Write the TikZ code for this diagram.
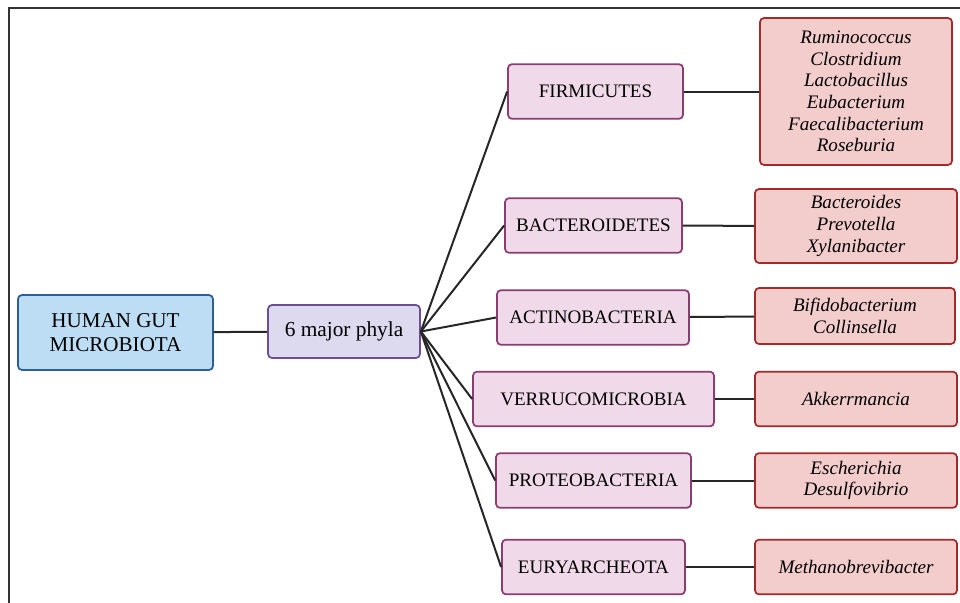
\documentclass[tikz,border=0pt]{standalone}
\usepackage{fontspec}
\setmainfont{Liberation Serif}
\definecolor{gutfill}{HTML}{BCDDF3}
\definecolor{gutdraw}{HTML}{2C5F96}
\definecolor{phylafill}{HTML}{DDD9EE}
\definecolor{phyladraw}{HTML}{6B4E94}
\definecolor{phylumfill}{HTML}{F0DAE9}
\definecolor{phylumdraw}{HTML}{8B3C73}
\definecolor{genusfill}{HTML}{F3CCCC}
\definecolor{genusdraw}{HTML}{A32A2A}
\begin{document}
\begin{tikzpicture}[x=0.75pt,y=-0.75pt,
    box/.style={rectangle,rounded corners=3pt,line width=1.3pt,align=center,
      inner sep=0pt,font=\fontsize{14.3}{16.2}\selectfont},
    gut/.style={box,fill=gutfill,draw=gutdraw,minimum width=146.25pt,minimum height=56.25pt,
      font=\fontsize{15.8}{18}\selectfont},
    phyla/.style={box,fill=phylafill,draw=phyladraw,minimum width=114pt,minimum height=39.75pt,
      font=\fontsize{16}{18}\selectfont},
    phylum/.style={box,fill=phylumfill,draw=phylumdraw,minimum height=41pt},
    genus/.style={box,fill=genusfill,draw=genusdraw,minimum width=151.5pt,minimum height=41pt,
      font=\fontsize{14.3}{16.2}\selectfont\itshape},
    link/.style={line width=1.5pt,draw=black!85}]
    \useasboundingbox (0,0) rectangle (960,603);
    % frame
    \draw[line width=1.6pt,black!80] (9,603) -- (9,8) -- (960,8);
    % root and phyla
    \node[gut] (gut) at (115.5,332.5) {HUMAN GUT\\MICROBIOTA};
    \node[phyla] (phyla) at (344,331.5) {6 major phyla};
    \node[phylum,minimum width=131.25pt] (firm) at (595.5,91.5) {FIRMICUTES};
    \node[phylum,minimum width=132.75pt] (bact) at (593.5,225.5) {BACTEROIDETES};
    \node[phylum,minimum width=144pt] (acti) at (593,317.5) {ACTINOBACTERIA};
    \node[phylum,minimum width=180.75pt] (verr) at (593.5,399) {VERRUCOMICROBIA};
    \node[phylum,minimum width=146.25pt] (prot) at (593.5,480.5) {PROTEOBACTERIA};
    \node[phylum,minimum width=137.25pt] (eury) at (593.5,567) {EURYARCHEOTA};
    % genera
    \node[genus,minimum width=144pt,minimum height=110.25pt] (firmg) at (856,91.5)
      {Ruminococcus\\Clostridium\\Lactobacillus\\Eubacterium\\Faecalibacterium\\Roseburia};
    \node[genus,minimum height=55.5pt] (bactg) at (856,226) {Bacteroides\\Prevotella\\Xylanibacter};
    \node[genus,minimum width=150pt,minimum height=42pt] (actig) at (855,316) {Bifidobacterium\\Collinsella};
    \node[genus] (verrg) at (856,399) {Akkerrmancia};
    \node[genus] (protg) at (856,480.5) {Escherichia\\Desulfovibrio};
    \node[genus] (euryg) at (856,567) {Methanobrevibacter};
    % connectors
    \draw[link] (gut) -- (phyla);
    \foreach \p in {firm,bact,acti,verr,prot,eury}{
      \draw[link] (phyla.east) -- (\p.west);
      \draw[link] (\p) -- (\p g);
    }
\end{tikzpicture}
\end{document}
